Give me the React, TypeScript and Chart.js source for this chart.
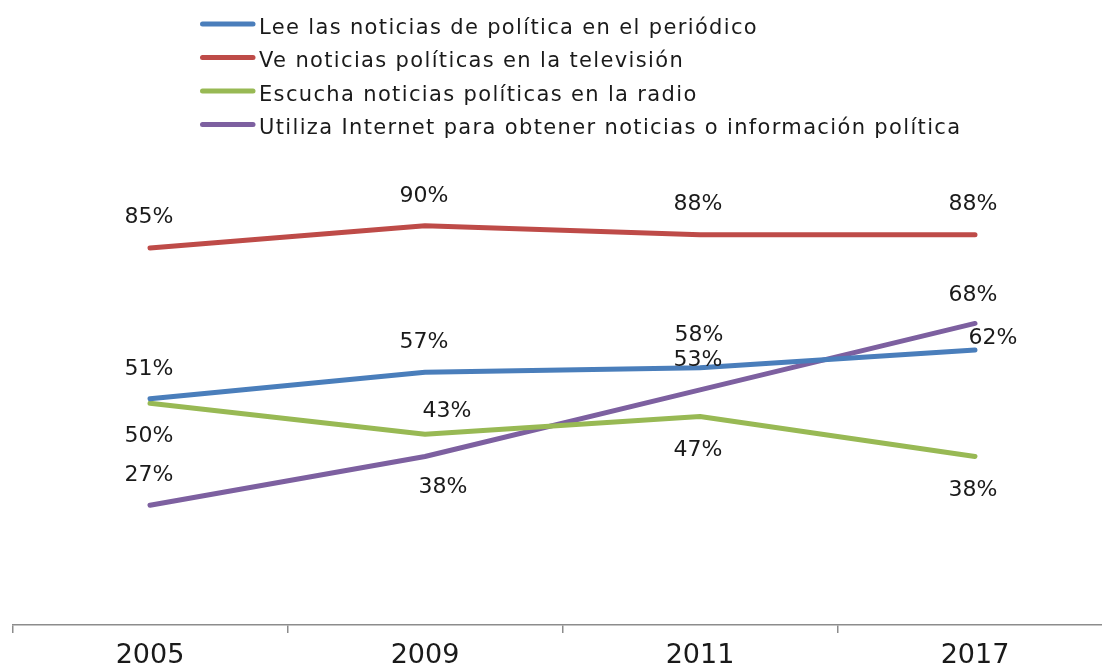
import React, { useEffect, useRef } from "react";
import { Chart, registerables } from "chart.js";

Chart.register(...registerables);

const years = ["2005", "2009", "2011", "2017"];
const periodico = [51, 57, 58, 62];
const television = [85, 90, 88, 88];
const radio = [50, 43, 47, 38];
const internet = [27, 38, 53, 68];
const seriesNames = [
  "Lee las noticias de política en el periódico",
  "Ve noticias políticas en la televisión",
  "Escucha noticias políticas en la radio",
  "Utiliza Internet para obtener noticias o información política",
];
const seriesColors = ["#4A7EBB", "#BE4B48", "#98B954", "#7D60A0"];

// label placement offsets (px) relative to each point: [dx, dy]
const labelOffsets = [
  [[-1, -30], [-1, -30], [-1, -32], [18, -12]],
  [[-1, -31], [-1, -30], [-2, -30], [-2, -30]],
  [[-1, 33], [22, -23], [-2, 34], [-2, 34]],
  [[-1, -30], [18, 31], [-2, -30], [-2, -28]],
];

const FONT = "'DejaVu Sans', sans-serif";

const labelPlugin = {
  id: "valueLabels",
  afterDatasetsDraw(chart: any) {
    const ctx = chart.ctx;
    ctx.save();
    ctx.font = `22px ${FONT}`;
    ctx.fillStyle = "#1a1a1a";
    ctx.textAlign = "center";
    ctx.textBaseline = "middle";
    chart.data.datasets.forEach((ds: any, i: number) => {
      const meta = chart.getDatasetMeta(i);
      meta.data.forEach((pt: any, j: number) => {
        const [dx, dy] = labelOffsets[i][j];
        ctx.fillText(`${ds.data[j]}%`, pt.x + dx, pt.y + dy);
      });
    });
    ctx.restore();
  },
};

const legendPlugin = {
  id: "customLegend",
  afterDraw(chart: any) {
    const ctx = chart.ctx;
    ctx.save();
    ctx.font = `21px ${FONT}`;
    ctx.textAlign = "left";
    ctx.textBaseline = "alphabetic";
    chart.data.datasets.forEach((ds: any, i: number) => {
      const y = 24 + i * 33.5;
      ctx.strokeStyle = ds.borderColor;
      ctx.lineWidth = 5;
      ctx.lineCap = "round";
      ctx.beginPath();
      ctx.moveTo(202.5, y);
      ctx.lineTo(253, y);
      ctx.stroke();
      ctx.fillStyle = "#1a1a1a";
      (ctx as any).letterSpacing = "1.35px";
      ctx.fillText(ds.label, 259, y + 9.5);
      (ctx as any).letterSpacing = "0px";
    });
    ctx.restore();
  },
};

export default function App() {
  const ref = useRef<HTMLCanvasElement>(null);
  useEffect(() => {
    if (!ref.current) return;
    const allData = [periodico, television, radio, internet];
    const chart = new Chart(ref.current, {
      type: "line",
      data: {
        labels: years,
        datasets: allData.map((d, i) => ({
          label: seriesNames[i],
          data: d,
          borderColor: seriesColors[i],
          backgroundColor: seriesColors[i],
          borderWidth: 5,
          borderCapStyle: "round",
          borderJoinStyle: "round",
          pointRadius: 0,
          tension: 0,
          fill: false,
        })),
      },
      options: {
        responsive: false,
        animation: false,
        layout: { padding: { top: 181.5, left: 12.5, right: 7.5, bottom: 0 } },
        plugins: { legend: { display: false }, tooltip: { enabled: false } },
        scales: {
          y: { display: false, min: 0, max: 100 },
          x: {
            offset: true,
            afterFit(scale: any) {
              scale.height = 75;
            },
            border: { display: true, color: "#8c8c8c", width: 1.5 },
            grid: {
              offset: true,
              drawOnChartArea: false,
              drawTicks: true,
              tickLength: 8,
              color: "#8c8c8c",
              lineWidth: 1.5,
            },
            ticks: {
              color: "#1a1a1a",
              padding: 7,
              font: { family: FONT, size: 27 },
              maxRotation: 0,
            },
          },
        },
      },
      plugins: [labelPlugin, legendPlugin],
    });
    return () => chart.destroy();
  }, []);
  return (
    <div
      style={{
        position: "fixed",
        left: 0,
        top: 0,
        width: 1102,
        height: 668,
        overflow: "hidden",
        background: "#fff",
      }}
    >
      <canvas ref={ref} width={1120} height={700} style={{ display: "block" }} />
    </div>
  );
}
